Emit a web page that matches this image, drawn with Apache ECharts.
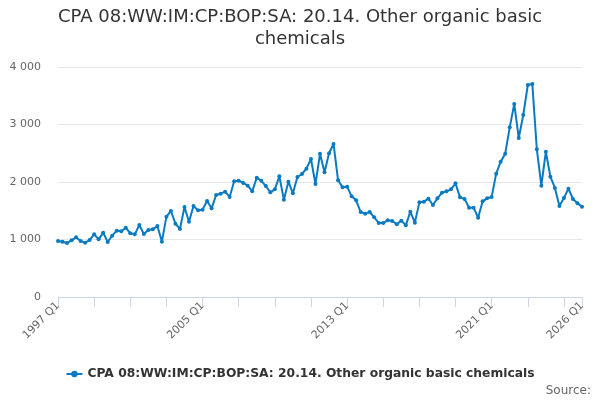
<!DOCTYPE html>
<html>
<head>
<meta charset="utf-8">
<script src="https://cdn.jsdelivr.net/npm/echarts@6/dist/echarts.min.js"></script>
<style>html,body{margin:0;padding:0;background:#fff}#c{width:600px;height:400px}</style>
</head>
<body>
<div id="c"></div>
<script>
var seriesName = 'CPA 08:WW:IM:CP:BOP:SA: 20.14. Other organic basic chemicals';
var titleLines = ['CPA 08:WW:IM:CP:BOP:SA: 20.14. Other organic basic', 'chemicals'];
var yTicks = [0, 1000, 2000, 3000, 4000];
var categories = [];
for (var y = 1997; y <= 2026; y++) {
  for (var q = 1; q <= 4; q++) {
    if (y === 2026 && q > 1) break;
    categories.push(y + ' Q' + q);
  }
}
var values = [
  974, 962, 939, 986, 1038, 974, 945, 991,
  1090, 1003, 1119, 957, 1067, 1154, 1142, 1206,
  1107, 1090, 1252, 1096, 1165, 1177, 1235, 962,
  1397, 1496, 1275, 1183, 1565, 1310, 1583, 1507,
  1519, 1670, 1542, 1774, 1797, 1832, 1740, 2012,
  2023, 1983, 1936, 1838, 2075, 2023, 1930, 1820,
  1872, 2099, 1693, 2006, 1803, 2087, 2139, 2232,
  2400, 1965, 2490, 2168, 2499, 2661, 2029, 1907,
  1919, 1751, 1681, 1478, 1449, 1478, 1386, 1287,
  1287, 1333, 1322, 1264, 1328, 1246, 1484, 1293,
  1646, 1658, 1710, 1600, 1716, 1814, 1838, 1872,
  1977, 1733, 1704, 1554, 1554, 1380, 1664, 1716,
  1739, 2145, 2354, 2493, 2951, 3357, 2765, 3165,
  3687, 3704, 2568, 1936, 2527, 2093, 1896, 1583,
  1722, 1884, 1704, 1629, 1571
];
var last = categories.length - 1;
var titleStyle = { fontSize: 18, fontWeight: 'normal', color: '#333333', fontFamily: 'DejaVu Sans' };
var chart = echarts.init(document.getElementById('c'));
chart.setOption({
  animation: false,
  textStyle: { fontFamily: 'DejaVu Sans' },
  title: [{
    text: titleLines[0], left: 'center', top: 8, padding: 0,
    textStyle: titleStyle
  }, {
    text: titleLines[1], left: 'center', top: 30, padding: 0,
    textStyle: titleStyle
  }, {
    text: 'Source:',
    right: 9, top: 385, padding: 0,
    textStyle: { fontSize: 12, fontWeight: 'normal', color: '#666666', fontFamily: 'DejaVu Sans' }
  }],
  legend: {
    top: 363, left: 'center',
    itemWidth: 16, itemHeight: 8,
    textStyle: { fontSize: 12.3, fontWeight: 'bold', color: '#333333', fontFamily: 'DejaVu Sans' },
    data: [seriesName]
  },
  grid: { left: 58, right: 18, top: 67, bottom: 103, containLabel: false },
  xAxis: {
    type: 'category',
    data: categories,
    boundaryGap: false,
    axisLine: { lineStyle: { color: '#ccd6eb' } },
    axisTick: { length: 10, lineStyle: { color: '#ccd6eb' },
      interval: function (i) { return i % 8 === 0 || i === last; } },
    axisLabel: {
      rotate: 45, fontSize: 11, color: '#666666', margin: 7,
      interval: function (i) { return i % 32 === 0 || i === last; }
    },
    splitLine: { show: false }
  },
  yAxis: {
    type: 'value',
    min: yTicks[0], max: yTicks[yTicks.length - 1], interval: 1000,
    axisLine: { show: false },
    axisTick: { show: false },
    axisLabel: { fontSize: 11, color: '#666666', margin: 17,
      formatter: function (v) { return String(v).replace(/\B(?=(\d{3})+(?!\d))/g, ' '); } },
    splitLine: { lineStyle: { color: '#e6e6e6' } }
  },
  series: [{
    name: seriesName,
    type: 'line',
    data: values,
    symbol: 'circle',
    symbolSize: 4,
    showAllSymbol: true,
    itemStyle: { color: '#0a7bc2' },
    lineStyle: { width: 2, color: '#0a7bc2' }
  }]
});
</script>
</body>
</html>
